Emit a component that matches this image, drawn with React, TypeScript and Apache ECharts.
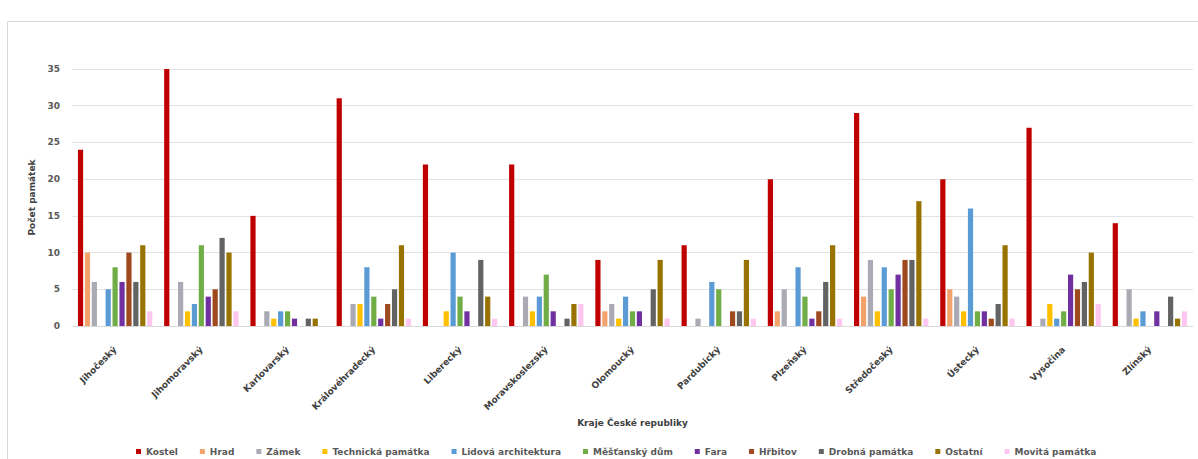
import React, { useEffect, useRef } from "react";
import * as echarts from "echarts";

const regions = [
  "Jihočeský", "Jihomoravský", "Karlovarský", "Královéhradecký", "Liberecký",
  "Moravskoslezský", "Olomoucký", "Pardubický", "Plzeňský", "Středočeský",
  "Ústecký", "Vysočina", "Zlínský",
];

const kostel = [24, 35, 15, 31, 22, 22, 9, 11, 20, 29, 20, 27, 14];
const hrad = [10, 0, 0, 0, 0, 0, 2, 0, 2, 4, 5, 0, 0];
const zamek = [6, 6, 2, 3, 0, 4, 3, 1, 5, 9, 4, 1, 5];
const technicka = [0, 2, 1, 3, 2, 2, 1, 0, 0, 2, 2, 3, 1];
const lidova = [5, 3, 2, 8, 10, 4, 4, 6, 8, 8, 16, 1, 2];
const mestansky = [8, 11, 2, 4, 4, 7, 2, 5, 4, 5, 2, 2, 0];
const fara = [6, 4, 1, 1, 2, 2, 2, 0, 1, 7, 2, 7, 2];
const hrbitov = [10, 5, 0, 3, 0, 0, 0, 2, 2, 9, 1, 5, 0];
const drobna = [6, 12, 1, 5, 9, 1, 5, 2, 6, 9, 3, 6, 4];
const ostatni = [11, 10, 1, 11, 4, 3, 9, 9, 11, 17, 11, 10, 1];
const movita = [2, 2, 0, 1, 1, 3, 1, 1, 1, 1, 1, 3, 2];

const seriesNames = [
  "Kostel", "Hrad", "Zámek", "Technická památka", "Lidová architektura",
  "Měšťanský dům", "Fara", "Hřbitov", "Drobná památka", "Ostatní", "Movitá památka",
];
const seriesData = [kostel, hrad, zamek, technicka, lidova, mestansky, fara, hrbitov, drobna, ostatni, movita];
const seriesColors = [
  "#C00000", "#F4A26B", "#A9AAB3", "#FFC000", "#5B9BD5",
  "#70AD47", "#7030A0", "#9E4A1E", "#636363", "#997300", "#FFC7F0",
];

export default function App() {
  const ref = useRef<HTMLDivElement>(null);
  useEffect(() => {
    document.body.style.margin = "0";
    if (!ref.current) return;
    const chart = echarts.init(ref.current, null, { renderer: "svg" });
    const font = "DejaVu Sans";
    chart.setOption({
      animation: false,
      textStyle: { fontFamily: font },
      graphic: [
        {
          type: "rect",
          shape: { x: 7.5, y: 21.5, width: 1300, height: 600 },
          style: { fill: "none", stroke: "#D9D9D9", lineWidth: 1 },
          silent: true,
        },
      ],
      grid: { left: 72, right: 5, top: 69, bottom: 133 },
      legend: {
        top: 442,
        left: 131,
        itemWidth: 5,
        itemHeight: 5,
        itemGap: 22,
        icon: "rect",
        textStyle: { fontSize: 9, fontWeight: "bold", color: "#595959", fontFamily: font },
        data: seriesNames,
      },
      xAxis: {
        type: "category",
        data: regions,
        name: "Kraje České republiky",
        nameLocation: "middle",
        nameGap: 86,
        nameTextStyle: { fontSize: 9, fontWeight: "bold", color: "#404040", fontFamily: font },
        axisTick: { show: false },
        axisLine: { lineStyle: { color: "#D9D9D9" } },
        axisLabel: {
          rotate: 45,
          interval: 0,
          fontSize: 9,
          fontWeight: "bold",
          color: "#404040",
          margin: 22,
          fontFamily: font,
        },
      },
      yAxis: {
        type: "value",
        min: 0,
        max: 35,
        interval: 5,
        name: "Počet památek",
        nameLocation: "middle",
        nameGap: 21,
        nameTextStyle: { fontSize: 9, fontWeight: "bold", color: "#404040", fontFamily: font },
        axisLine: { show: false },
        axisTick: { show: false },
        splitLine: { lineStyle: { color: "#E3E3E3" } },
        axisLabel: { fontSize: 9, fontWeight: "bold", color: "#595959", margin: 12, fontFamily: font },
      },
      series: seriesNames.map((name, i) => ({
        name,
        type: "bar",
        data: seriesData[i],
        barWidth: 5.2,
        barGap: "33%",
        itemStyle: { color: seriesColors[i] },
      })),
    });
    return () => chart.dispose();
  }, []);
  return <div ref={ref} style={{ width: 1198, height: 459 }} />;
}
